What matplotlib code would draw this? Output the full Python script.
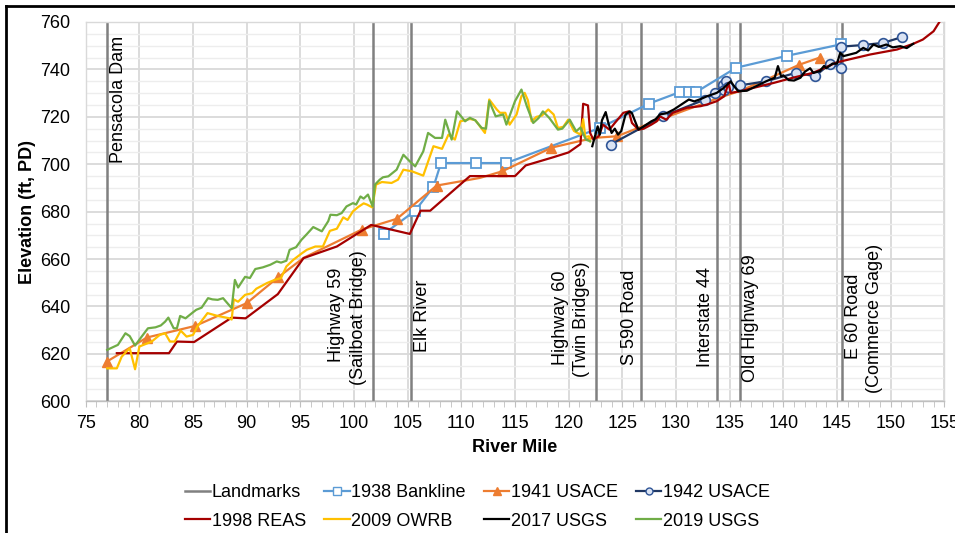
import matplotlib
matplotlib.use("Agg")
import matplotlib.pyplot as plt
from matplotlib.lines import Line2D
from matplotlib.ticker import MultipleLocator

plt.rcParams['font.family'] = ['Liberation Sans', 'DejaVu Sans']

# ---------------- data ----------------
landmark_names = ["Pensacola Dam", "Highway 59\n(Sailboat Bridge)", "Elk River",
                  "Highway 60\n(Twin Bridges)", "S 590 Road", "Interstate 44",
                  "Old Highway 69", "E 60 Road\n(Commerce Gage)"]
landmark_miles = [77.0, 101.74, 105.3, 122.56, 126.75, 133.86, 135.95, 145.45]

bank1938_mile = [102.8, 105.7, 107.4, 108.1, 111.4, 114.2, 122.9, 127.5, 130.4, 131.2,
                 131.9, 135.6, 140.3, 145.4]
bank1938_elev = [670.7, 680.4, 690.4, 700.5, 700.5, 700.5, 715.3, 725.6, 730.5, 730.5,
                 730.5, 740.7, 745.7, 750.6]

usace1941_mile = [76.95, 80.7, 85.2, 90.0, 92.95, 95.3, 100.7, 104.0, 107.7, 111.7, 113.8,
                  118.4, 122.3, 124.5, 128.0, 131.0, 134.0, 136.0, 138.8, 141.5, 143.4]
usace1941_elev = [616.7, 626.9, 631.8, 641.4, 652.4, 660.5, 672.4, 677.0, 691.0, 694.2, 697.0,
                  707.0, 711.1, 711.8, 718.0, 723.0, 728.0, 731.0, 736.5, 742.0, 745.0]

usace1942_mile = [123.9, 128.8, 132.7, 133.6, 134.4, 134.7, 134.5, 134.8, 136.0, 138.4,
                  141.2, 142.95, 144.35, 145.4, 145.4, 147.45, 149.3, 151.1]
usace1942_elev = [708.3, 720.3, 727.3, 730.1, 733.5, 735.0, 731.5, 732.5, 733.3, 735.0,
                  738.6, 737.1, 742.4, 740.7, 749.6, 750.3, 751.2, 753.7]

reas1998_mile = [77.9, 82.76, 83.5, 85.1, 88.6, 89.9, 92.9, 95.3, 98.4, 101.6, 105.2, 106.2,
                 107.1, 110.8, 115.0, 116.0, 118.6, 120.0, 121.1, 121.35, 121.8, 122.0, 122.3,
                 122.8, 123.2, 123.8, 124.3, 125.1, 125.6, 125.9, 126.5, 127.0, 127.7, 128.2,
                 128.5, 129.1, 129.7, 131.0, 132.3, 132.9, 133.8, 134.5, 134.9, 135.1, 136.0,
                 137.2, 139.1, 140.9, 142.8, 145.0, 148.1, 150.6, 152.1, 153.0, 154.0, 154.6]
reas1998_elev = [620.3, 620.3, 625.2, 625.0, 635.3, 635.0, 645.2, 660.4, 665.3, 674.4, 670.6,
                 680.4, 680.4, 695.0, 695.0, 699.5, 703.0, 705.0, 708.5, 725.5, 724.8, 713.2,
                 710.4, 711.8, 716.7, 714.6, 717.4, 721.7, 722.3, 717.4, 714.6, 715.0, 716.7,
                 718.1, 720.2, 718.8, 721.7, 723.8, 724.5, 725.2, 726.6, 728.7, 734.3, 730.1,
                 730.8, 732.2, 734.3, 736.5, 738.6, 743.0, 746.3, 748.4, 750.8, 752.6, 756.1,
                 760.4]

owrb2009_mile = [77.0, 77.9, 78.35, 79.1, 79.6, 80.0, 81.15, 81.9, 82.4, 82.85, 83.3, 83.85,
                 84.4, 85.0, 85.4, 86.35, 87.3, 88.3, 88.6, 88.8, 89.2, 89.85, 90.5, 90.9,
                 91.9, 92.6, 93.2, 93.7, 94.35, 95.1, 95.6, 96.4, 97.1, 97.75, 98.4, 99.0,
                 99.4, 99.9, 100.4, 100.9, 101.2, 101.7, 102.05, 102.6, 103.5, 104.1, 104.6,
                 105.4, 106.45, 107.4, 108.2, 108.8, 109.4, 109.9, 110.8, 111.3, 112.2, 112.6,
                 113.3, 113.6, 114.1, 114.5, 115.15, 115.6, 115.9, 116.2, 116.55, 117.0, 117.5,
                 118.1, 118.6, 119.0, 119.5, 119.95, 120.5, 121.1, 121.35, 121.55, 121.9, 122.0]
owrb2009_elev = [613.9, 613.9, 618.8, 622.4, 613.5, 623.1, 625.2, 628.0, 628.7, 625.2, 625.2,
                 629.8, 627.3, 628.0, 631.5, 637.2, 636.0, 635.1, 634.5, 643.0, 642.0, 644.9,
                 645.6, 647.5, 649.9, 651.2, 652.0, 656.9, 659.7, 662.3, 663.9, 665.3, 665.3,
                 671.9, 672.8, 677.6, 676.5, 680.1, 682.0, 683.5, 683.0, 681.8, 691.4, 692.5,
                 692.1, 693.5, 697.7, 697.0, 695.2, 707.6, 706.5, 712.5, 710.4, 718.1, 719.1,
                 718.6, 713.2, 727.3, 723.1, 721.7, 721.7, 716.7, 721.0, 728.7, 730.1, 727.0,
                 718.1, 720.0, 720.5, 723.1, 721.0, 715.3, 715.8, 718.8, 714.0, 712.5, 719.0,
                 711.5, 711.8, 709.7]

usgs2017_mile = [122.2, 122.45, 122.7, 122.9, 123.1, 123.45, 123.7, 124.0, 124.3, 124.6, 124.9,
                 125.3, 125.7, 125.9, 126.2, 126.5, 127.0, 127.7, 128.1, 128.5, 129.1, 129.8,
                 130.5, 131.2, 131.7, 132.3, 132.9, 133.8, 134.45, 135.1, 135.4, 135.8, 136.6,
                 137.5, 138.4, 139.2, 139.5, 139.8, 140.0, 140.5, 141.0, 141.6, 142.0, 142.5,
                 142.8, 143.4, 143.8, 144.0, 144.6, 145.0, 145.3, 145.6, 146.2, 146.8, 147.45,
                 147.9, 148.4, 148.9, 149.6, 150.2, 150.9, 151.5, 152.1]
usgs2017_elev = [707.6, 711.8, 716.0, 712.5, 718.5, 722.0, 717.4, 713.2, 715.0, 712.5, 714.0,
                 721.0, 722.3, 721.5, 718.0, 714.6, 716.0, 718.1, 719.0, 721.0, 721.5, 723.1,
                 725.2, 727.3, 726.5, 727.5, 728.7, 730.1, 732.2, 735.0, 733.0, 730.8, 731.0,
                 733.0, 735.0, 736.5, 741.4, 737.0, 737.5, 735.5, 735.3, 736.5, 739.0, 740.5,
                 738.5, 739.3, 741.5, 740.5, 742.5, 742.4, 747.0, 745.6, 746.3, 747.0, 749.1,
                 748.0, 750.5, 749.5, 750.5, 749.3, 749.8, 749.0, 750.8]

usgs2019_mile = [77.0, 78.0, 78.7, 79.1, 79.6, 80.1, 80.8, 81.5, 82.0, 82.4, 82.7, 83.2, 83.5,
                 83.8, 84.3, 84.9, 85.3, 85.8, 86.4, 86.8, 87.3, 87.8, 88.6, 88.9, 89.2, 89.85,
                 90.3, 90.8, 91.5, 92.2, 92.8, 93.2, 93.7, 94.0, 94.6, 95.1, 95.6, 96.2, 97.0,
                 97.6, 97.8, 98.4, 98.85, 99.3, 99.9, 100.2, 100.6, 100.9, 101.3, 101.74, 101.95,
                 102.4, 102.7, 103.2, 103.97, 104.6, 105.2, 105.7, 106.45, 106.9, 107.55, 108.2,
                 108.5, 109.1, 109.6, 110.35, 110.8, 111.3, 111.9, 112.3, 112.6, 113.2, 113.9,
                 114.2, 115.0, 115.6, 116.1, 116.7, 117.2, 117.6, 118.2, 119.0, 119.4, 120.1,
                 120.7, 121.1, 121.6, 122.0]
usgs2019_elev = [621.7, 623.8, 628.7, 627.5, 623.5, 626.6, 630.8, 631.2, 632.0, 633.6, 635.3,
                 630.8, 630.8, 636.0, 635.0, 637.2, 638.6, 639.5, 643.5, 643.0, 642.8, 643.5,
                 639.3, 651.2, 648.0, 652.5, 652.0, 655.8, 656.5, 657.6, 659.0, 658.5, 659.3,
                 663.9, 665.0, 668.1, 670.5, 673.5, 671.7, 676.0, 678.7, 678.5, 679.4, 682.2,
                 683.6, 683.0, 686.4, 685.5, 687.2, 682.2, 691.4, 693.5, 694.5, 694.9, 697.7,
                 704.0, 701.2, 699.1, 705.4, 713.2, 711.1, 711.1, 718.8, 710.4, 722.3, 718.1,
                 719.6, 718.5, 715.3, 715.0, 726.6, 720.2, 721.0, 716.7, 726.6, 731.5, 724.5,
                 717.4, 719.5, 722.3, 719.5, 714.6, 715.0, 718.8, 713.9, 715.5, 710.4, 709.7]

# ---------------- styling / layout ----------------
W, H = 955, 533
fig = plt.figure(figsize=(W / 100, H / 100), dpi=100)
ax = fig.add_axes([85.7 / W, 1 - 401.3 / H, (944.3 - 85.7) / W, (401.3 - 22) / H])

FS = 13
ax.set_xlim(75, 155)
ax.set_ylim(600, 760)
ax.xaxis.set_major_locator(MultipleLocator(5))
ax.xaxis.set_minor_locator(MultipleLocator(1))
ax.yaxis.set_major_locator(MultipleLocator(20))
ax.yaxis.set_minor_locator(MultipleLocator(5))
ax.grid(which='minor', axis='y', color='#EDEDED', lw=1.0, zorder=0)
ax.grid(which='major', axis='y', color='#D9D9D9', lw=1.3, zorder=0)
ax.grid(which='major', axis='x', color='#D9D9D9', lw=1.3, zorder=0)
ax.set_axisbelow(True)
for s in ['top', 'right', 'left']:
    ax.spines[s].set_color('#D9D9D9')
    ax.spines[s].set_linewidth(1.0)
ax.spines['bottom'].set_color('#BFBFBF')
ax.spines['bottom'].set_linewidth(1.0)
ax.tick_params(axis='y', which='both', length=0, pad=11, labelsize=FS)
ax.tick_params(axis='x', which='both', direction='out', length=4, color='#BFBFBF',
               labelsize=FS, pad=6)
ax.set_xlabel("River Mile", fontsize=FS, fontweight='bold', labelpad=5)
ax.set_ylabel("Elevation (ft, PD)", fontsize=FS, fontweight='bold', labelpad=3)

# landmarks
lm_color = '#808080'
for i, m in enumerate(landmark_miles):
    ax.plot([m, m], [600, 760], color=lm_color, lw=1.8, zorder=2,
            label="Landmarks" if i == 0 else None)

# landmark label placement (x, y-bottom per line)
label_pos = [
    [(78.10, 700.7)],
    [(98.37, 616.6), (100.46, 606.9)],
    [(106.38, 620.8)],
    [(119.27, 615.3), (121.21, 610.4)],
    [(125.67, 615.3)],
    [(132.78, 614.6)],
    [(136.97, 608.3)],
    [(146.52, 617.7), (148.54, 603.6)],
]
for name, poss in zip(landmark_names, label_pos):
    for line, (lx, ly) in zip(name.split("\n"), poss):
        ax.text(lx, ly, line, rotation=90, ha='center', va='bottom', fontsize=FS,
                color='black', zorder=3)

lw = 1.6
ax.plot(bank1938_mile, bank1938_elev, color='#5B9BD5', lw=lw, marker='s', ms=7,
        mfc='white', mec='#5B9BD5', mew=1.3, label='1938 Bankline', zorder=4)
tri_idx = [0, 1, 2, 3, 4, 6, 7, 8, 10, 11, 13, 19, 20]
ax.plot(usace1941_mile, usace1941_elev, color='#ED7D31', lw=lw, marker='^', ms=7,
        mfc='#ED7D31', mec='#ED7D31', markevery=tri_idx, label='1941 USACE', zorder=4)
ax.plot(usace1942_mile, usace1942_elev, color='#203864', lw=lw, marker='o', ms=7,
        mfc='#DAE3F3', mec='#2F5597', mew=1.2, label='1942 USACE', zorder=4)
ax.plot(reas1998_mile, reas1998_elev, color='#A50000', lw=lw, label='1998 REAS', zorder=5)
ax.plot(owrb2009_mile, owrb2009_elev, color='#FFC000', lw=lw, label='2009 OWRB', zorder=5)
ax.plot(usgs2017_mile, usgs2017_elev, color='black', lw=lw, label='2017 USGS', zorder=6)
ax.plot(usgs2019_mile, usgs2019_elev, color='#70AD47', lw=lw, label='2019 USGS', zorder=6)

# legend
leg_h = [
    Line2D([], [], color=lm_color, lw=1.8),
    Line2D([], [], color='#5B9BD5', lw=lw, marker='s', ms=6, mfc='white', mec='#5B9BD5'),
    Line2D([], [], color='#ED7D31', lw=lw, marker='^', ms=6, mfc='#ED7D31', mec='#ED7D31'),
    Line2D([], [], color='#203864', lw=lw, marker='o', ms=5, mfc='#DAE3F3', mec='#2F5597'),
    Line2D([], [], color='#A50000', lw=lw),
    Line2D([], [], color='#FFC000', lw=lw),
    Line2D([], [], color='black', lw=lw),
    Line2D([], [], color='#70AD47', lw=lw),
]
leg_l = ['Landmarks', '1938 Bankline', '1941 USACE', '1942 USACE',
         '1998 REAS', '2009 OWRB', '2017 USGS', '2019 USGS']
order = [0, 4, 1, 5, 2, 6, 3, 7]
fig.legend([leg_h[i] for i in order], [leg_l[i] for i in order], ncol=4,
           loc='center', bbox_to_anchor=(0.5, 1 - 507 / H), frameon=False,
           fontsize=FS, handlelength=1.4, handletextpad=0.1, columnspacing=1.0,
           labelspacing=0.62)

# outer frame
fig.add_artist(Line2D([6 / W, 6 / W], [0, 1 - 6 / H], color='black', lw=2,
                      transform=fig.transFigure))
fig.add_artist(Line2D([6 / W, 1], [1 - 6 / H, 1 - 6 / H], color='black', lw=2,
                      transform=fig.transFigure))

fig.savefig("out.png", dpi=100)
